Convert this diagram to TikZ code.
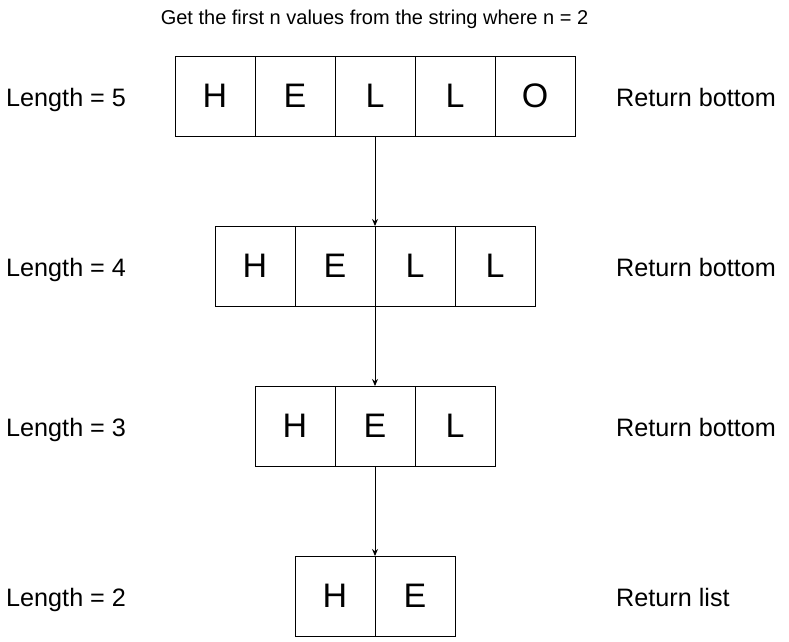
\documentclass[tikz,border=0pt]{standalone}
\usepackage{fontspec}
\setmainfont{Liberation Sans}
\usetikzlibrary{arrows.meta,positioning}

\begin{document}
\begin{tikzpicture}[x=1pt,y=-1pt,
    cell/.style={draw,line width=1pt,minimum size=80pt,inner sep=0pt,outer sep=0pt,font=\fontsize{34}{40}\selectfont},
    lbl/.style={anchor=base west,inner sep=0pt,font=\fontsize{25.2}{30}\selectfont},
    link/.style={-{Stealth[length=7pt,width=6pt]},line width=1pt}]
    \useasboundingbox (0,0) rectangle (789,641);
    \node[anchor=base,inner sep=0pt,font=\fontsize{20}{24}\selectfont] (title) at (374.5,24) {Get the first n values from the string where n = 2};
    % Letter boxes, one row per string length
    \foreach \l [count=\i] in {H,E,L,L,O}
      \node[cell] (a\i) at (135+\i*80,96) {\l};
    \foreach \l [count=\i] in {H,E,L,L}
      \node[cell] (b\i) at (175+\i*80,266) {\l};
    \foreach \l [count=\i] in {H,E,L}
      \node[cell] (c\i) at (215+\i*80,426) {\l};
    \foreach \l [count=\i] in {H,E}
      \node[cell] (d\i) at (255+\i*80,596) {\l};
    % Side labels
    \foreach \n/\y/\t in {5/106/Return bottom,4/276/Return bottom,3/436/Return bottom,2/606/Return list} {
      \node[lbl] (len\n) at (6,\y) {Length = \n};
      \node[lbl] (ret\n) at (616,\y) {\t};
    }
    \draw[link] (a3.south) -- (b2.north east);
    \draw[link] (b2.south east) -- (c2.north);
    \draw[link] (c2.south) -- (d1.north east);
  \end{tikzpicture}
\end{document}
